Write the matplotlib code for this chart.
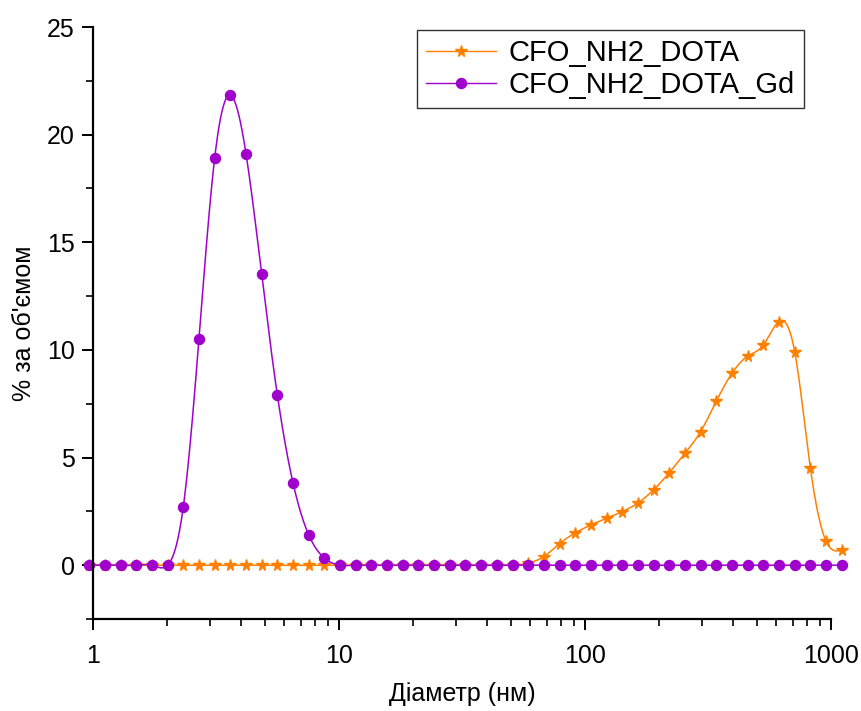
import numpy as np
import matplotlib
matplotlib.use("Agg")
import matplotlib.pyplot as plt
from matplotlib.ticker import LogLocator, NullFormatter, FixedLocator, FixedFormatter

# Size classes (nm)
diameter = [0.9649, 1.117, 1.294, 1.499, 1.736, 2.010, 2.328, 2.696, 3.122, 3.615,
            4.187, 4.849, 5.615, 6.503, 7.531, 8.721, 10.10, 11.70, 13.54, 15.69,
            18.17, 21.04, 24.36, 28.21, 32.67, 37.84, 43.82, 50.75, 58.77, 68.06,
            78.82, 91.28, 105.7, 122.4, 141.8, 164.2, 190.1, 220.2, 255.0, 295.3,
            342.0, 396.1, 458.7, 531.2, 615.1, 712.4, 825.0, 955.4, 1106.0]

cfo_dota = [0]*28 + [0.1, 0.4, 1.0, 1.5, 1.87, 2.18, 2.49, 2.89, 3.50, 4.30, 5.20, 6.21,
                     7.62, 8.92, 9.71, 10.23, 11.32, 9.91, 4.50, 1.11, 0.70]

cfo_dota_gd = [0, 0, 0, 0, 0, 0, 2.71, 10.51, 18.9, 21.83, 19.12, 13.51, 7.91, 3.82,
               1.41, 0.33] + [0]*33

series_names = ["CFO_NH2_DOTA", "CFO_NH2_DOTA_Gd"]
x_label = "Діаметр (нм)"
y_label = "% за об'ємом"


def natural_spline(x, y, xs):
    x = np.asarray(x, float); y = np.asarray(y, float)
    n = len(x); h = np.diff(x)
    A = np.zeros((n, n)); b = np.zeros(n)
    A[0, 0] = 1; A[-1, -1] = 1
    for i in range(1, n - 1):
        A[i, i - 1] = h[i - 1]
        A[i, i] = 2 * (h[i - 1] + h[i])
        A[i, i + 1] = h[i]
        b[i] = 6 * ((y[i + 1] - y[i]) / h[i] - (y[i] - y[i - 1]) / h[i - 1])
    M = np.linalg.solve(A, b)
    idx = np.clip(np.searchsorted(x, xs) - 1, 0, n - 2)
    x0 = x[idx]; x1 = x[idx + 1]; hh = x1 - x0
    t0 = x1 - xs; t1 = xs - x0
    return (M[idx] * t0**3 / (6 * hh) + M[idx + 1] * t1**3 / (6 * hh)
            + (y[idx] / hh - M[idx] * hh / 6) * t0
            + (y[idx + 1] / hh - M[idx + 1] * hh / 6) * t1)


fig = plt.figure(figsize=(8.62, 7.11), dpi=100)
ax = fig.add_axes([0.1079, 0.1294, 0.8561, 0.8326])

lx = np.log10(diameter)
xs = np.linspace(lx[0], lx[-1], 2000)

orange = "#FF8000"
purple = "#A000CC"

for yv, col, mk, ms, name in [(cfo_dota, orange, "*", 8.5, series_names[0]),
                              (cfo_dota_gd, purple, "o", 7.2, series_names[1])]:
    ys = natural_spline(lx, yv, xs)
    ax.plot(10**xs, ys, color=col, lw=1.1, clip_on=False)
    ax.plot(diameter, yv, linestyle="none", marker=mk, ms=ms, color=col, clip_on=False)
    ax.plot([], [], color=col, lw=1.0, marker=mk, ms=ms, label=name)

ax.set_xscale("log")
ax.set_xlim(1, 1000)
ax.set_ylim(-2.5, 25)

ax.xaxis.set_major_locator(FixedLocator([1, 10, 100, 1000]))
ax.xaxis.set_major_formatter(FixedFormatter(["1", "10", "100", "1000"]))
ax.xaxis.set_minor_locator(LogLocator(base=10, subs=np.arange(2, 10), numticks=20))
ax.xaxis.set_minor_formatter(NullFormatter())
ax.yaxis.set_major_locator(FixedLocator([0, 5, 10, 15, 20, 25]))
ax.yaxis.set_minor_locator(FixedLocator([-2.5, 2.5, 7.5, 12.5, 17.5, 22.5]))

for s in ["top", "right"]:
    ax.spines[s].set_visible(False)
for s in ["left", "bottom"]:
    ax.spines[s].set_linewidth(1.6)

ax.tick_params(which="major", direction="out", length=8, width=1.4, labelsize=18, pad=5)
ax.tick_params(which="minor", direction="out", length=5, width=1.2)
for lab in ax.get_xticklabels() + ax.get_yticklabels():
    lab.set_family(["Liberation Sans", "DejaVu Sans"])
ax.tick_params(axis="x", pad=10)

narrow = ["Liberation Sans Narrow", "Liberation Sans", "DejaVu Sans"]
ax.set_xlabel(x_label, fontsize=18, family=narrow, labelpad=10)
ax.set_ylabel(y_label, fontsize=18, family=narrow, labelpad=8)

leg = ax.legend(loc="upper right", bbox_to_anchor=(0.9634, 0.995), borderaxespad=0,
                prop={"family": ["Liberation Sans", "DejaVu Sans"], "size": 21},
                frameon=True, fancybox=False, edgecolor="black", handlelength=2.4,
                handletextpad=0.45, borderpad=0.3, labelspacing=0.15)
leg.get_frame().set_linewidth(1.0)

fig.savefig("out.png", dpi=100)
